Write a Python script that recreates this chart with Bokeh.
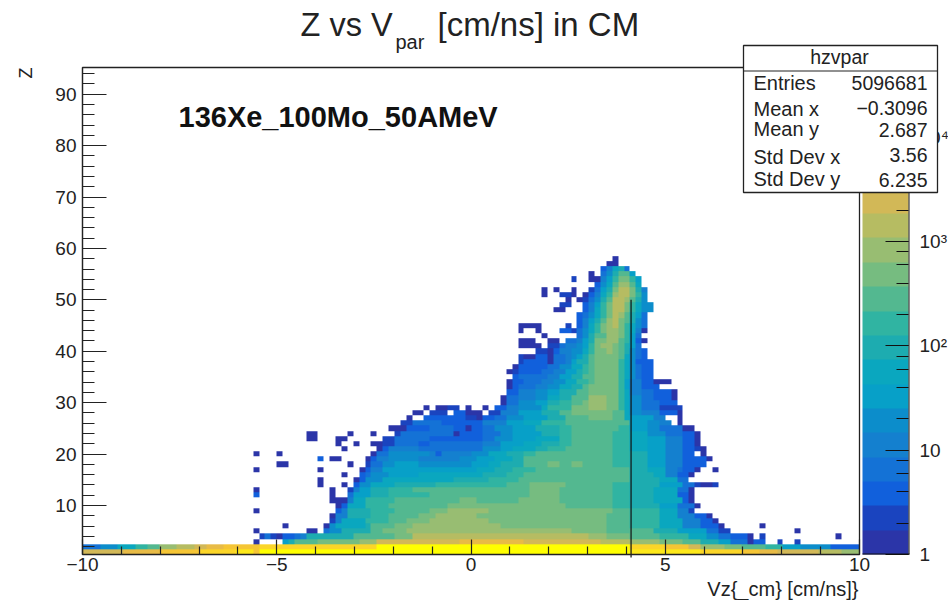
import numpy as np
from bokeh.plotting import figure
from bokeh.models import (BoxAnnotation, ColorBar, FixedTicker, Label, LinearAxis,
                          LogColorMapper, LogTicker)
from bokeh.embed import file_html
from bokeh.resources import INLINE

x_ticks = [-10, -5, 0, 5, 10]
x_minor = [-9, -8, -7, -6, -4, -3, -2, -1, 1, 2, 3, 4, 6, 7, 8, 9]
y_ticks = [10, 20, 30, 40, 50, 60, 70, 80, 90]
y_minor = [2, 4, 6, 8, 12, 14, 16, 18, 22, 24, 26, 28, 32, 34, 36, 38, 42, 44, 46, 48,
           52, 54, 56, 58, 62, 64, 66, 68, 72, 74, 76, 78, 82, 84, 86, 88, 92, 94]

band_colors = ["#2b35a8", "#1a44bf", "#1160dc", "#1472d6", "#1480cf", "#0c8dcb", "#07a0c8",
               "#0aa7bf", "#1dacb0", "#30b4a2", "#53b890", "#76bc80", "#98bd72", "#b6bc62",
               "#d2b857", "#e8bb46", "#f5c535", "#fbd528", "#fde81a", "#ffff00"]
band_counts = [1.31, 2.24, 3.8, 6.5, 11.1, 19, 32, 55, 94, 160, 273, 466, 795, 1356, 2313,
               3945, 6730, 11480, 19580, 33400]
count_max = 46800

line_vz = [4.12, 4.12]
line_z = [-0.1, 50]

# Each row: Vz where a run starts, colour band of that run (0 = empty), ...
z58 = [3.64,1, 3.81,0]
z57 = [3.50,1, 3.81,0]
z56 = [3.33,3, 3.50,5, 3.64,8, 3.81,9, 4.00,4, 4.12,0]
z55 = [3.02,1, 3.17,0, 3.33,4, 3.50,6, 3.64,9, 3.81,11, 4.15,7, 4.29,0]
z54 = [2.54,2, 2.69,0, 3.02,1, 3.33,5, 3.50,7, 3.64,10, 3.81,12, 4.15,10, 4.29,7, 4.44,0]
z53 = [3.17,3, 3.33,6, 3.50,8, 3.64,11, 3.81,13, 4.15,11, 4.29,8, 4.44,0]
z52 = [1.75,1, 1.90,0, 2.06,1, 2.23,0, 2.54,1, 2.69,0, 3.02,2, 3.17,4, 3.33,7, 3.50,9, 3.64,12, 3.81,14, 4.15,12, 4.29,9, 4.44,5, 4.60,0]
z51 = [1.75,1, 1.90,0, 2.23,2, 2.54,1, 2.69,0, 2.87,1, 3.02,3, 3.17,5, 3.33,8, 3.50,10, 3.64,13, 3.81,14, 4.15,12, 4.29,10, 4.44,6, 4.60,0]
z50 = [2.39,1, 2.54,0, 2.69,1, 2.87,2, 3.02,4, 3.17,6, 3.33,9, 3.50,11, 3.64,14, 4.00,13, 4.15,11, 4.29,9, 4.44,6, 4.60,0]
z49 = [2.23,2, 2.54,0, 2.87,3, 3.02,5, 3.17,7, 3.33,10, 3.50,12, 3.64,14, 4.00,12, 4.15,10, 4.29,8, 4.44,6, 4.75,0]
z48 = [2.06,1, 2.39,0, 2.87,3, 3.02,5, 3.17,8, 3.33,10, 3.50,12, 3.64,14, 4.00,12, 4.15,10, 4.29,8, 4.44,6, 4.75,0]
z47 = [2.69,3, 2.87,4, 3.02,6, 3.17,8, 3.33,10, 3.50,12, 3.64,14, 3.81,13, 4.00,11, 4.15,9, 4.29,7, 4.44,4, 4.60,0]
z46 = [2.69,3, 2.87,5, 3.02,7, 3.17,9, 3.33,11, 3.50,13, 3.64,14, 3.81,12, 4.00,11, 4.15,9, 4.29,6, 4.44,4, 4.60,0]
z45 = [1.27,1, 1.75,0, 2.39,2, 2.54,0, 2.69,3, 2.87,5, 3.02,8, 3.17,10, 3.33,12, 3.50,13, 3.64,14, 3.81,12, 4.00,10, 4.15,8, 4.29,6, 4.44,4, 4.60,0]
z44 = [1.27,1, 1.42,0, 1.60,1, 1.75,0, 2.23,3, 2.54,2, 2.69,4, 2.87,6, 3.02,8, 3.17,10, 3.33,12, 3.50,13, 3.81,12, 4.00,10, 4.15,8, 4.29,5, 4.44,1, 4.60,0]
z43 = [1.75,1, 2.03,0, 2.69,4, 2.87,6, 3.02,9, 3.17,11, 3.50,13, 3.81,12, 4.00,10, 4.15,7, 4.29,4, 4.44,0]
z42 = [1.27,1, 1.60,0, 1.90,1, 2.23,0, 2.39,4, 2.69,5, 2.87,7, 3.02,9, 3.17,12, 3.50,13, 3.81,11, 4.00,10, 4.15,7, 4.29,3, 4.44,1, 4.60,0]
z41 = [1.27,1, 1.75,0, 1.90,2, 2.23,4, 2.39,5, 2.69,6, 2.87,7, 3.02,10, 3.17,12, 3.33,13, 3.64,12, 3.81,11, 4.00,9, 4.15,7, 4.29,4, 4.44,0]
z40 = [1.60,2, 1.90,1, 2.06,3, 2.23,5, 2.54,6, 2.87,8, 3.02,10, 3.17,12, 3.50,13, 3.64,12, 3.81,11, 4.00,9, 4.15,6, 4.29,4, 4.44,3, 4.60,0]
z39 = [1.27,2, 1.42,1, 1.60,3, 1.90,1, 2.06,4, 2.39,5, 2.54,6, 2.69,7, 2.87,9, 3.02,11, 3.17,12, 3.81,11, 4.00,8, 4.15,6, 4.29,4, 4.44,3, 4.60,0]
z38 = [1.27,2, 1.42,3, 1.90,1, 2.06,4, 2.39,5, 2.54,7, 2.69,9, 3.02,11, 3.17,12, 3.81,10, 4.00,8, 4.15,6, 4.29,3, 4.63,1, 4.77,0]
z37 = [1.12,1, 1.27,3, 1.90,4, 2.23,6, 2.54,8, 2.87,10, 3.02,11, 3.17,12, 3.81,10, 4.00,8, 4.15,6, 4.29,4, 4.44,3, 4.77,0]
z36 = [.98,1, 1.12,2, 1.27,3, 1.75,4, 2.06,5, 2.39,7, 2.69,9, 2.87,10, 3.02,11, 3.17,12, 3.81,10, 4.00,8, 4.15,6, 4.29,4, 4.44,3, 4.77,0]
z35 = [1.12,3, 1.27,4, 1.90,5, 2.23,7, 2.54,9, 2.87,11, 3.17,12, 3.81,10, 4.00,8, 4.15,6, 4.29,4, 4.44,3, 4.77,0]
z34 = [.98,1, 1.12,3, 1.42,4, 1.75,5, 2.06,6, 2.39,8, 2.69,10, 3.02,11, 3.17,12, 3.81,10, 4.00,7, 4.15,5, 4.44,3, 4.77,1, 5.08,0]
z33 = [.98,1, 1.12,3, 1.27,4, 1.60,5, 1.90,6, 2.23,8, 2.54,9, 2.87,11, 3.02,12, 3.81,10, 4.00,7, 4.15,5, 4.44,3, 4.92,0]
z32 = [.98,3, 1.27,5, 1.60,6, 1.90,7, 2.23,9, 2.69,11, 3.02,12, 3.81,10, 4.00,8, 4.15,5, 4.44,4, 4.77,3, 5.08,1, 5.25,0]
z31 = [.79,1, .98,4, 1.27,5, 1.60,6, 1.90,8, 2.23,9, 2.54,11, 3.02,13, 3.50,12, 3.81,10, 4.00,8, 4.15,6, 4.44,4, 4.77,3, 5.08,1, 5.25,0]
z30 = [.79,1, .98,4, 1.27,6, 1.60,7, 1.90,9, 2.23,10, 2.54,11, 2.87,12, 3.02,13, 3.50,12, 3.81,10, 4.00,8, 4.15,6, 4.44,4, 4.92,3, 5.25,0]
z29 = [-1.28,1, -1.13,0, -.97,1, -.65,2, -.36,0, -.17,1, -.01,0, .34,1, .46,0, .63,3, .98,5, 1.27,6, 1.75,8, 1.90,10, 2.54,12, 3.02,13, 3.50,12, 3.81,10, 4.00,8, 4.15,6, 4.44,4, 4.92,2, 5.41,0]
z28 = [-1.44,1, -1.28,0, -1.13,2, -.65,0, -.49,3, -.18,1, .34,0, .46,2, .79,5, 1.27,7, 1.75,9, 2.23,11, 2.54,12, 3.64,11, 4.00,8, 4.15,6, 4.44,5, 4.92,3, 5.25,1, 5.41,0]
z27 = [-1.63,1, -1.44,0, -1.28,3, -.18,2, .15,1, .32,3, .63,4, .94,6, 1.29,7, 1.90,9, 2.40,11, 3.00,12, 3.69,11, 4.00,8, 4.15,7, 4.63,5, 5.06,0, 5.25,1, 5.41,0]
z26 = [-1.76,2, -1.47,4, -.70,3, .34,5, .86,7, 1.29,8, 1.89,10, 2.40,11, 4.03,8, 4.15,7, 4.55,6, 4.89,5, 5.08,0, 5.25,1, 5.42,0]
z25 = [-2.07,1, -1.63,3, -1.04,4, -.53,3, -.18,1, -.01,3, .34,4, .60,6, 1.00,7, 1.60,9, 2.20,10, 2.60,11, 3.80,10, 4.15,7, 4.55,6, 4.89,4, 5.40,1, 5.70,0]
z24 = [-4.46,1, -4.32,0, -4.17,1, -3.98,0, -3.19,1, -3.05,0, -2.55,1, -2.41,0, -1.90,2, -1.76,4, -.53,1, -.36,3, .34,4, .77,6, 1.12,7, 1.89,9, 2.23,10, 2.60,11, 3.69,10, 4.15,8, 4.55,6, 5.06,4, 5.40,3, 5.70,1, 5.87,0]
z23 = [-4.17,1, -3.98,0, -3.51,1, -3.19,0, -2.24,2, -1.93,4, -1.04,3, .34,4, .60,6, 1.00,7, 1.60,8, 2.20,10, 2.60,11, 3.69,10, 4.15,8, 4.55,7, 5.06,5, 5.40,3, 5.70,1, 5.87,0]
z22 = [-3.51,1, -3.34,0, -3.05,1, -2.88,0, -2.55,1, -2.24,2, -1.93,4, -1.30,3, -1.13,4, .34,5, .77,7, 1.29,8, 1.89,9, 2.23,10, 2.60,11, 3.69,10, 4.15,8, 4.55,7, 5.06,5, 5.40,3, 5.70,1, 5.87,0]
z21 = [-3.34,1, -3.19,0, -2.41,1, -2.24,3, -2.07,5, -1.30,4, .34,6, .70,7, 1.10,8, 1.60,9, 2.00,10, 2.40,11, 3.69,10, 4.15,8, 4.55,7, 5.06,5, 5.40,3, 5.70,2, 5.87,1, 6.02,0]
z20 = [-5.59,1, -5.43,0, -4.95,1, -4.80,0, -4.46,1, -4.32,0, -2.55,1, -2.41,4, -2.07,6, -1.13,5, -.97,3, -.80,5, .00,6, .47,8, .94,9, 1.29,10, 1.63,11, 3.69,10, 4.15,9, 4.55,7, 5.06,5, 5.49,3, 5.70,0, 5.87,1, 6.02,0]
z19 = [-3.98,3, -3.82,0, -3.68,1, -3.34,0, -2.71,1, -2.55,3, -2.41,5, -2.07,6, -1.30,5, -.36,6, .20,7, .60,8, 1.00,9, 1.40,11, 3.69,10, 4.15,9, 4.55,7, 5.06,5, 5.40,3, 6.02,1, 6.18,0]
z18 = [-4.95,1, -4.65,0, -3.19,1, -3.05,0, -2.71,2, -2.55,4, -2.24,6, -1.90,7, -1.30,6, .00,7, .47,8, .77,9, 1.29,11, 1.90,12, 2.23,11, 2.54,12, 2.87,11, 3.69,10, 4.15,9, 4.55,7, 5.06,5, 5.40,3, 6.00,0]
z17 = [-5.59,1, -5.43,0, -3.98,1, -3.82,0, -2.88,1, -2.71,3, -2.55,5, -2.24,7, .20,8, .60,9, 1.10,10, 1.60,11, 3.69,11, 4.15,9, 4.60,8, 5.06,5, 5.25,4, 5.40,3, 5.70,1, 5.87,0, 6.18,1, 6.33,0]
z16 = [-3.34,1, -3.19,0, -2.88,3, -2.71,4, -2.55,6, -2.07,7, -1.30,8, .34,9, .86,10, 1.29,11, 4.15,9, 4.63,8, 5.06,5, 5.25,3, 5.54,1, 5.70,0]
z15 = [-3.98,1, -3.82,0, -3.03,1, -2.88,3, -2.71,6, -2.24,8, -.53,9, .50,10, 1.20,11, 3.60,11, 4.15,9, 4.80,8, 5.25,4, 5.54,0]
z14 = [-3.98,1, -3.82,0, -3.34,1, -3.19,0, -3.03,3, -2.88,6, -2.55,8, -1.90,9, -.87,10, .86,11, 1.46,12, 2.40,11, 3.60,10, 4.15,9, 4.80,7, 5.49,4, 5.70,2, 5.87,1, 6.18,2, 6.33,0]
z13 = [-5.59,1, -5.43,0, -3.68,1, -3.51,0, -3.19,2, -3.03,5, -2.88,7, -2.55,9, -2.07,10, -1.56,11, 1.46,12, 2.30,11, 3.60,10, 4.15,9, 4.70,8, 5.23,4, 5.54,1, 5.70,0]
z12 = [-5.59,3, -5.43,0, -3.68,1, -3.51,0, -3.19,4, -3.03,7, -2.55,9, -2.07,10, -1.13,11, 1.46,12, 2.23,11, 3.60,10, 4.15,9, 4.63,8, 5.23,3, 5.54,1, 5.70,0]
z11 = [-3.68,1, -3.19,5, -3.03,8, -2.71,10, -1.90,11, -.36,12, .20,11, 1.20,12, 2.30,11, 3.69,10, 4.15,9, 4.70,8, 5.40,3, 5.54,1, 5.70,0]
z10 = [-3.51,1, -3.34,3, -3.19,8, -2.71,10, -2.07,11, -.61,12, 2.40,11, 3.69,10, 4.15,9, 4.80,7, 5.32,4, 5.70,1, 5.89,0]
z9 = [-5.59,1, -5.43,0, -3.51,3, -3.34,5, -3.19,9, -2.55,10, -1.90,11, -1.04,12, -.61,13, .40,12, 3.60,11, 4.15,10, 4.80,8, 5.23,5, 5.54,2, 5.70,0]
z8 = [-3.68,1, -3.51,5, -3.19,9, -2.55,10, -2.07,11, -1.30,12, -.96,13, .20,12, 3.52,11, 4.15,10, 4.80,8, 5.23,5, 5.70,3, 6.02,1, 6.17,0]
z7 = [-3.68,2, -3.51,5, -3.34,8, -2.71,10, -2.07,11, -1.64,12, -1.13,13, .50,12, 3.52,11, 4.15,10, 4.80,8, 5.40,5, 5.89,3, 6.17,1, 6.32,0]
z6 = [-4.80,1, -4.65,0, -3.82,1, -3.68,6, -3.51,8, -2.71,9, -2.55,11, -1.90,12, -1.47,13, .80,12, 3.52,11, 4.15,10, 4.80,8, 5.50,5, 5.87,3, 6.32,1, 6.50,0, 7.45,1, 7.64,0]
z5 = [-5.59,1, -5.43,0, -4.17,1, -3.98,0, -3.82,4, -3.68,6, -3.34,9, -2.55,11, -2.24,12, -1.63,13, 2.57,12, 3.52,11, 4.15,11, 4.63,9, 5.23,7, 6.04,4, 6.32,2, 6.66,0, 8.27,1, 8.41,0]
z4 = [-5.43,2, -5.28,4, -5.11,2, -4.95,1, -4.80,3, -4.47,4, -4.32,5, -4.17,9, -3.05,11, -1.90,12, -1.47,14, 3.00,13, 3.52,12, 4.15,11, 4.80,10, 5.57,8, 5.99,6, 6.34,4, 6.66,3, 7.16,1, 7.30,0, 7.45,2, 7.64,0, 9.36,1, 9.54,0]
z3 = [-5.59,1, -5.43,0, -4.80,7, -4.65,9, -4.47,11, -3.98,12, -2.90,13, -2.41,15, -.36,16, 1.29,15, 3.35,14, 4.15,13, 4.80,12, 5.49,11, 5.90,9, 6.34,7, 6.66,4, 7.16,1, 7.30,3, 7.64,0, 7.93,2, 8.09,0, 8.27,2, 8.41,0]
z2 = [-10,4, -9.6,6, -9.1,8, -8.6,10, -8.3,11, -8,13, -7.5,14, -7.1,15, -6.8,16, -6.4,17, -5.5,18, -2.41,20, 4.15,18, 5.0,17, 5.65,15, 5.9,13, 6.5,12, 7.0,11, 7.6,10, 8.0,7, 8.5,6, 9.2,3, 10,0]
z1 = [-10,15, -9,16, -8,17, -7,18, -6.1,19, -5.6,17, -5.43,20, 4.15,19, 5.9,18, 6.9,17, 7.45,16, 7.95,15, 8.95,14, 9.5,13, 10,0]

rows = [z1, z2, z3, z4, z5, z6, z7, z8, z9, z10, z11, z12, z13, z14, z15, z16, z17, z18, z19,
        z20, z21, z22, z23, z24, z25, z26, z27, z28, z29, z30, z31, z32, z33, z34, z35, z36,
        z37, z38, z39, z40, z41, z42, z43, z44, z45, z46, z47, z48, z49, z50, z51, z52, z53,
        z54, z55, z56, z57, z58]

n_vz = 132
vz_centres = -10 + (np.arange(n_vz) + 0.5) * 20 / n_vz
grid = np.full((len(rows), n_vz), np.nan)
for r, runs in enumerate(rows):
    for start, level, end in zip(runs[0::2], runs[1::2], runs[2::2]):
        if level:
            grid[r, (vz_centres >= start) & (vz_centres < end)] = band_counts[level - 1]

FONT = "Liberation Sans"
INK = "#222222"

mapper = LogColorMapper(palette=band_colors, low=1, high=count_max, nan_color=(0, 0, 0, 0))

# The frame fills the whole canvas so that the stats box can overlap the colour bar.
PX_X = 777 / 20
PX_Z = 487 / 94.73
p = figure(width=948, height=600, min_border=0, output_backend="svg", toolbar_location=None,
           tools="", x_axis_location=None, y_axis_location=None,
           x_range=(-10 - 82 / PX_X, 10 + 89 / PX_X),
           y_range=(0.47 - 46 / PX_Z, 95.2 + 67 / PX_Z))
p.grid.visible = False
p.outline_line_color = None

p.image(image=[grid], x=-10, y=0.5, dw=20, dh=len(rows), color_mapper=mapper)
p.line(line_vz, line_z, line_color="#111111", line_width=1.2)

xax = LinearAxis(ticker=FixedTicker(ticks=x_ticks, minor_ticks=x_minor), fixed_location=0.47, bounds=(-10, 10))
xax.major_tick_in, xax.major_tick_out = 15, 0
xax.minor_tick_in, xax.minor_tick_out = 8, 0
yax = LinearAxis(ticker=FixedTicker(ticks=y_ticks, minor_ticks=y_minor), fixed_location=-10, bounds=(0.47, 95.2))
yax.major_tick_in, yax.major_tick_out = 24, 0
yax.minor_tick_in, yax.minor_tick_out = 12, 0
for ax in (xax, yax):
    ax.axis_line_color = INK
    ax.axis_line_width = 1.2
    ax.major_tick_line_color = INK
    ax.minor_tick_line_color = INK
    ax.major_tick_line_width = 1.2
    ax.minor_tick_line_width = 1.2
    ax.major_label_text_font = FONT
    ax.major_label_text_font_size = "19px"
    ax.major_label_text_color = "#222222"
xax.major_label_standoff = 3
yax.major_label_standoff = 6
p.add_layout(xax, "below")
p.add_layout(yax, "left")


def txt(x, y, s, size, align="left", bold=False, angle=0.0, color="#222222"):
    """x, y: page pixels of the reference (middle of the text)."""
    p.add_layout(Label(x=x, y=y, x_units="canvas", y_units="canvas", text=s, text_font=FONT,
                       text_font_size=f"{size}px", text_align=align, text_baseline="alphabetic",
                       text_color=color, angle=angle,
                       text_font_style="bold" if bold else "normal"))


def box(l, r, t, b, fill="white", line="#222222", w=1.3):
    p.add_layout(BoxAnnotation(left=l, right=r, top=t, bottom=b,
                               left_units="canvas", right_units="canvas",
                               top_units="canvas", bottom_units="canvas",
                               fill_color=fill, fill_alpha=1 if fill else 0,
                               line_color=line, line_alpha=1, line_width=w))


box(82, 859, 67, 554, fill=None)

cb = ColorBar(color_mapper=mapper, ticker=LogTicker(), width=46, height=487, padding=0,
              location=(862, 46), background_fill_alpha=0, border_line_color=None,
              major_tick_in=23, major_tick_out=0, minor_tick_in=12, minor_tick_out=0,
              major_tick_line_color="#111111", minor_tick_line_color="#111111",
              major_tick_line_width=1.2, minor_tick_line_width=1.2,
              bar_line_color=None, label_standoff=11,
              major_label_text_font=FONT, major_label_text_font_size="19px",
              major_label_text_color="#222222",
              major_label_overrides={1: "1", 10: "10", 100: "10²", 1000: "10³", 10000: "10⁴"})
p.add_layout(cb)

box(908, 909, 190, 554, fill="#111111", line=None)
box(862, 909, 553, 554, fill="#111111", line=None)
box(743, 937, 45, 192)
box(743, 937, 70, 71, fill="#222222", line=None)
txt(300, 24, "Z vs V", 32.5)
txt(395, 41, "par", 20)
txt(437, 24, "[cm/ns] in CM", 33)
txt(25, 78, "Z", 18, angle=1.5708)
txt(178, 116, "136Xe_100Mo_50AMeV", 29, bold=True, color="#111111")
txt(858, 588, "Vz{_cm} [cm/ns]}", 20, align="right")
txt(839, 56, "hzvpar", 19.5, align="center")
stat_names = ["Entries", "Mean x", "Mean y", "Std Dev x", "Std Dev y"]
stat_name_y = [82, 108, 128, 156, 178]
stat_values = ["5096681", "−0.3096", "2.687", "3.56", "6.235"]
stat_value_y = [82, 107, 129, 154, 179]
for name, val, yn, yv in zip(stat_names, stat_values, stat_name_y, stat_value_y):
    txt(753, yn, name, 20)
    txt(927, yv, val, 19.5, align="right")

open("out.html", "w").write(file_html(p, INLINE))
